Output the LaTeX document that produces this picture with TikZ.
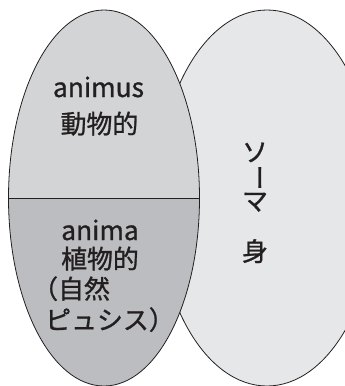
\documentclass[tikz,border=0pt]{standalone}
\usepackage{fontspec}
\setmainfont{Liberation Sans}
\newfontfamily\jp{Noto Sans CJK JP}[FakeBold=1]
\definecolor{topg}{HTML}{D3D4D6}
\definecolor{botg}{HTML}{BCBDC0}
\definecolor{rg}{HTML}{E6E7E8}
\definecolor{ink}{HTML}{231F20}
\begin{document}
\begin{tikzpicture}[x=1bp,y=-1bp,
  outl/.style={draw=ink,line width=0.8bp},
  lat/.style={font=\jp\fontsize{26.5}{26.5}\selectfont,text=ink,inner sep=0pt},
  jpt/.style={font=\jp\fontsize{26}{26}\selectfont,text=ink,inner sep=0pt}]
\useasboundingbox (0,0) rectangle (345,386);
\clip (0,0) rectangle (345,386);
% right ellipse (soma)
\fill[rg] (267,198) ellipse [x radius=110, y radius=188];
\draw[outl] (267,198) ellipse [x radius=110, y radius=188];
% left ellipse (psyche)
\begin{scope}
  \clip (104,198) ellipse [x radius=95.5, y radius=188];
  \fill[topg] (0,0) rectangle (345,198);
  \fill[botg] (0,198) rectangle (345,400);
\end{scope}
\draw[outl] (104,198) ellipse [x radius=95.5, y radius=188];
\coordinate (dl) at (8.5,198);
\coordinate (dr) at (199.5,198);
\draw[outl] (dl) -- (dr);
% texts
\node[lat,anchor=base] (animus) at (98.5,97) {animus};
\node[jpt,anchor=base] (doubutsu) at (99.5,133.5) {動物的};
\node[lat,anchor=base] (anima) at (100,240) {anima};
\node[jpt,anchor=base] (shokubutsu) at (100,268.5) {植物的};
\node[jpt,anchor=base west] (shizen) at (32,298.5) {（自然};
\node[jpt,anchor=base west] (physis) at (45,329.5) {ピュシス）};
\node[jpt,anchor=base] (so) at (255,161.5) {ソ};
\node[jpt,rotate=-90] (bar) at (255.5,177.5) {ー};
\node[jpt,anchor=base] (ma) at (255,210.5) {マ};
\node[jpt,anchor=base] (mi) at (255,261) {身};
\end{tikzpicture}
\end{document}
